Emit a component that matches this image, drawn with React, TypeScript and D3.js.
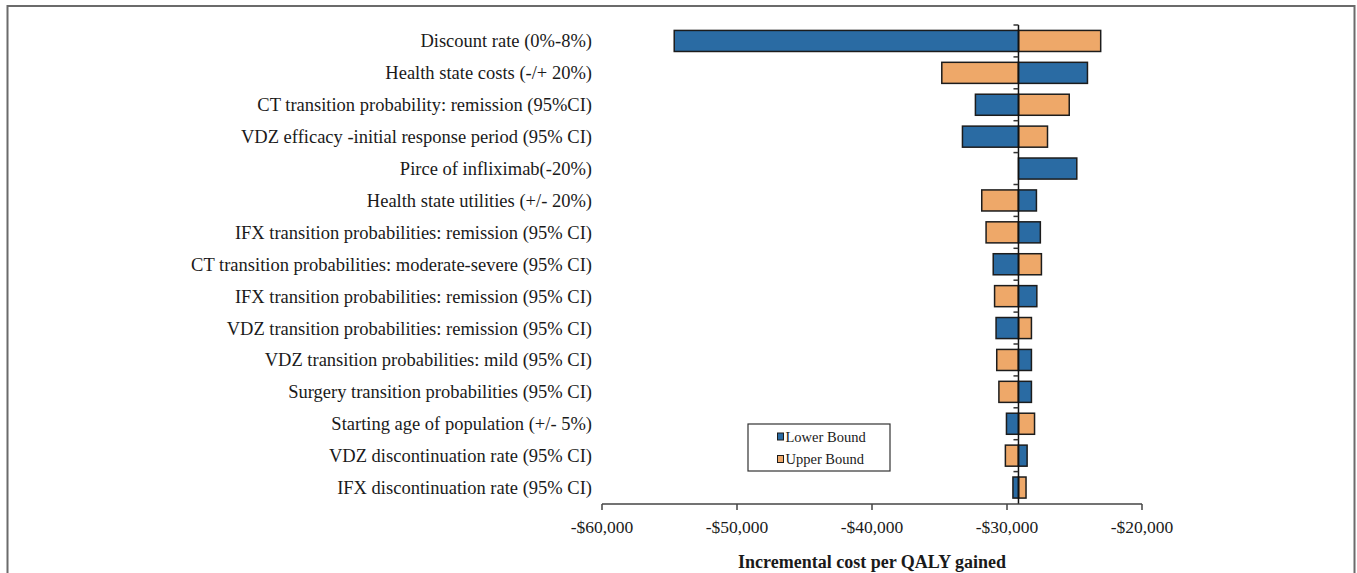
import React from "react";
import * as d3 from "d3";

const categories = [
  "Discount rate (0%-8%)",
  "Health state costs (-/+ 20%)",
  "CT transition probability: remission (95%CI)",
  "VDZ efficacy -initial response period (95% CI)",
  "Pirce of infliximab(-20%)",
  "Health state utilities (+/- 20%)",
  "IFX transition probabilities: remission (95% CI)",
  "CT transition probabilities: moderate-severe (95% CI)",
  "IFX transition probabilities: remission (95% CI)",
  "VDZ transition probabilities: remission (95% CI)",
  "VDZ transition probabilities: mild (95% CI)",
  "Surgery transition probabilities (95% CI)",
  "Starting age of population (+/- 5%)",
  "VDZ discontinuation rate (95% CI)",
  "IFX discontinuation rate (95% CI)",
];

const baseCase = -29150;

const lowerBound = [
  -54650, -24040, -32340, -33300, -24830, -27820, -27530, -31020, -27790,
  -30810, -28190, -28190, -30040, -28510, -29560,
];

const upperBound = [
  -23060, -34830, -25390, -27000, -29150, -31870, -31550, -27450, -30920,
  -28190, -30760, -30600, -27960, -30120, -28590,
];

const xTicks = [-60000, -50000, -40000, -30000, -20000];

const seriesNames = ["Lower Bound", "Upper Bound"];
const seriesColors = ["#2a6ba3", "#eea869"];

const W = 1357;
const H = 573;

export default function App() {
  const x = d3.scaleLinear().domain([-60000, -20000]).range([602, 1142]);
  const y = d3
    .scaleBand<number>()
    .domain(d3.range(categories.length))
    .range([25, 503.5])
    .paddingInner(0.34)
    .paddingOuter(0.17);
  const step = y.step();
  const fmt = (v: number) => "-$" + d3.format(",")(Math.abs(v));
  const x0 = x(baseCase);
  const serif = { fontFamily: "'Liberation Serif', 'Times New Roman', serif" };

  const bars: { i: number; s: number; v: number }[] = [];
  categories.forEach((_, i) => {
    bars.push({ i, s: 1, v: upperBound[i] });
    bars.push({ i, s: 0, v: lowerBound[i] });
  });

  return (
    <svg
      width={W}
      height={H}
      style={{ position: "absolute", left: 0, top: 0, background: "#fff" }}
    >
      <rect x={7.5} y={6} width={1347} height={600} fill="#fff" stroke="#6b6b6b" strokeWidth={2} />

      {/* category labels */}
      {categories.map((c, i) => (
        <text
          key={"l" + i}
          x={592}
          y={(y(i) as number) + y.bandwidth() / 2}
          dy="0.35em"
          textAnchor="end"
          fontSize={18.5}
          fill="#1a1a1a"
          style={serif}
        >
          {c}
        </text>
      ))}

      {/* bars */}
      {bars
        .filter((b) => b.v !== baseCase)
        .map((b, k) => (
          <rect
            key={"b" + k}
            x={Math.min(x(b.v), x0)}
            y={y(b.i) as number}
            width={Math.abs(x(b.v) - x0)}
            height={y.bandwidth()}
            fill={seriesColors[b.s]}
            stroke="#1c1c1c"
            strokeWidth={1.5}
          />
        ))}

      {/* category axis at base case */}
      <line x1={x0} x2={x0} y1={25} y2={504} stroke="#111" strokeWidth={1.5} />
      {categories.map((_, i) => (
        <line
          key={"t" + i}
          x1={x0 - 5}
          x2={x0}
          y1={(y(i) as number) - step * 0.17}
          y2={(y(i) as number) - step * 0.17}
          stroke="#333"
          strokeWidth={1.5}
        />
      ))}

      {/* x axis */}
      <line x1={x(-60000)} x2={x(-20000)} y1={504} y2={504} stroke="#444" strokeWidth={1.5} />
      {xTicks.map((t) => (
        <g key={"x" + t}>
          <line x1={x(t)} x2={x(t)} y1={504} y2={510} stroke="#444" strokeWidth={1.5} />
          <text x={x(t)} y={533} textAnchor="middle" fontSize={17.5} fill="#1a1a1a" style={serif}>
            {fmt(t)}
          </text>
        </g>
      ))}
      <text
        x={(x(-60000) + x(-20000)) / 2}
        y={568}
        textAnchor="middle"
        fontSize={18}
        fontWeight="bold"
        fill="#1a1a1a"
        style={serif}
      >
        Incremental cost per QALY gained
      </text>

      {/* legend */}
      <rect x={748} y={424} width={142} height={47} fill="#fff" stroke="#333" strokeWidth={1.2} />
      {seriesNames.map((n, k) => (
        <g key={"lg" + k}>
          <rect
            x={777.5}
            y={433 + k * 22.5}
            width={6}
            height={7}
            fill={seriesColors[k]}
            stroke="#1c1c1c"
            strokeWidth={1}
          />
          <text x={785.5} y={436.5 + k * 22.5} dy="0.35em" fontSize={14.5} fill="#1a1a1a" style={serif}>
            {n}
          </text>
        </g>
      ))}
    </svg>
  );
}
